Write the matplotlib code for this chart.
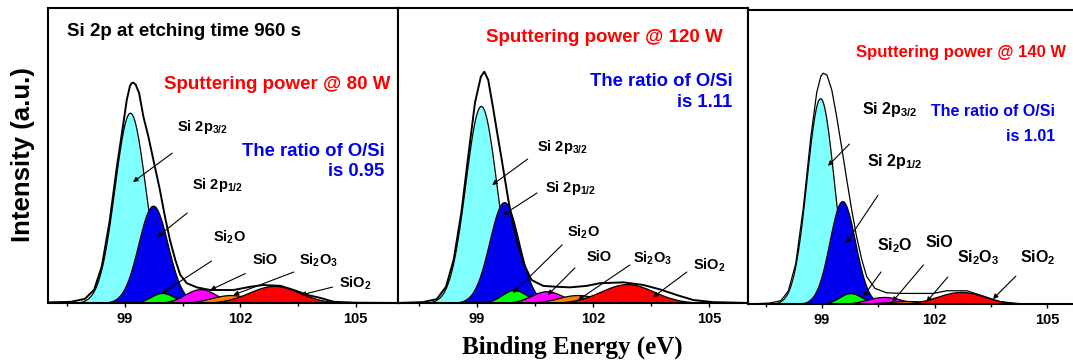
import numpy as np
from matplotlib import pyplot as plt

plt.rcParams['font.family'] = ['Liberation Sans', 'DejaVu Sans']
plt.rcParams['font.weight'] = 'bold'
plt.rcParams['mathtext.fontset'] = 'custom'
plt.rcParams['mathtext.rm'] = 'Liberation Sans:bold'
plt.rcParams['mathtext.it'] = 'Liberation Sans:bold'
plt.rcParams['mathtext.bf'] = 'Liberation Sans:bold'

# fitted components (center eV, height a.u., sigma eV)
components = ['Si 2p$_{3/2}$', 'Si 2p$_{1/2}$', 'Si$_2$O', 'SiO', 'Si$_2$O$_3$', 'SiO$_2$']

powers = ['80 W', '120 W', '140 W']
ratios = ['0.95', '1.11', '1.01']

centers_80 = [99.13, 99.73, 99.97, 100.96, 101.75, 102.88]
heights_80 = [0.645, 0.33, 0.034, 0.047, 0.027, 0.058]
sigmas_80 = [0.40, 0.38, 0.30, 0.40, 0.50, 0.65]

centers_120 = [99.10, 99.70, 99.96, 100.80, 101.60, 102.88]
heights_120 = [0.668, 0.342, 0.044, 0.040, 0.027, 0.064]
sigmas_120 = [0.40, 0.38, 0.32, 0.40, 0.50, 0.68]

centers_140 = [98.95, 99.54, 99.76, 100.65, 101.30, 102.70]
heights_140 = [0.70, 0.35, 0.037, 0.024, 0.010, 0.041]
sigmas_140 = [0.36, 0.34, 0.30, 0.45, 0.60, 0.62]

env_x_80 = [97.0, 97.6, 97.96, 98.2, 98.4, 98.6, 98.8, 98.95, 99.05, 99.13, 99.17, 99.22, 99.28,
            99.37, 99.48, 99.61, 99.74, 99.91, 100.04, 100.17, 100.31, 100.44, 100.61, 100.87,
            101.22, 101.82, 102.26, 102.6, 103.05, 103.39, 103.75, 104.09, 104.43, 105.0, 106.1]
env_y_80 = [0.002, 0.004, 0.014, 0.045, 0.125, 0.275, 0.47, 0.60, 0.69, 0.735, 0.745, 0.747, 0.740,
            0.711, 0.632, 0.564, 0.485, 0.383, 0.293, 0.214, 0.146, 0.095, 0.067, 0.053,
            0.044, 0.044, 0.055, 0.061, 0.058, 0.044, 0.027, 0.017, 0.004, 0.001, 0.0]

env_x_120 = [96.96, 97.6, 97.96, 98.2, 98.4, 98.6, 98.8, 98.95, 99.1, 99.19, 99.29, 99.41, 99.51,
             99.64, 99.81, 99.98, 100.2, 100.41, 100.71, 101.06, 101.4, 101.83, 102.17, 102.78,
             103.3, 103.73, 104.16, 104.59, 105.1, 106.0]
env_y_120 = [0.0, 0.003, 0.013, 0.055, 0.148, 0.31, 0.525, 0.68, 0.767, 0.784, 0.756, 0.666, 0.586,
             0.485, 0.349, 0.236, 0.135, 0.078, 0.058, 0.055, 0.053, 0.058, 0.067, 0.07,
             0.061, 0.046, 0.027, 0.01, 0.003, 0.0]

env_x_140 = [97.03, 97.6, 97.9, 98.1, 98.3, 98.5, 98.7, 98.86, 98.97, 99.03, 99.13, 99.26, 99.39,
             99.52, 99.66, 99.79, 99.92, 100.06, 100.19, 100.41, 100.72, 101.16, 101.61, 101.96,
             102.32, 102.85, 103.2, 103.73, 104.35, 106.0]
env_y_140 = [0.0, 0.003, 0.011, 0.043, 0.137, 0.325, 0.566, 0.72, 0.775, 0.785, 0.779, 0.728, 0.637,
             0.535, 0.422, 0.32, 0.229, 0.15, 0.093, 0.053, 0.038, 0.036, 0.036, 0.036,
             0.045, 0.045, 0.031, 0.008, 0.0, 0.0]

x_ticks = [99, 102, 105]

peak_colors = ['#80FFFF', '#0000EE', '#00FF00', '#FF00FF', '#FF8000', '#FF0000']


def gauss(x_, c, h, s):
    return h * np.exp(-0.5 * ((x_ - c) / s) ** 2)


W, H = 1073, 361


def box(l, r, t, b):
    return [l / W, 1 - b / H, (r - l) / W, (b - t) / H]


def draw_panel(ax, centers, heights, sigmas, env_x, env_y, xlim, env_lw, lab_fs, labels):
    x = np.linspace(xlim[0], xlim[1], 800)
    for c, h, s, col in zip(centers, heights, sigmas, peak_colors):
        ax.fill_between(x, 0, gauss(x, c, h, s), facecolor=col, edgecolor='k', lw=0.9, zorder=2)
    ax.plot(env_x, env_y, color='k', lw=env_lw, zorder=3, solid_joinstyle='round')

    for name, (tx, ty, t0, h0) in zip(components, labels):
        ax.text(tx, ty, name, fontsize=lab_fs, va='center', ha='left', zorder=5)
        ax.annotate('', xy=h0, xytext=t0,
                    arrowprops=dict(arrowstyle='-|>', color='k', lw=0.8, mutation_scale=7,
                                    shrinkA=0, shrinkB=0), zorder=4)

    ax.set_xlim(*xlim)
    ax.set_ylim(0, 1)
    ax.set_yticks([])
    ax.set_xticks(x_ticks)
    ax.set_xticks([97.5, 100.5, 103.5], minor=True)
    ax.tick_params(axis='x', labelsize=10.5, length=3, width=1, direction='out')
    ax.tick_params(axis='x', which='minor', length=2, width=1)
    for sp in ax.spines.values():
        sp.set_linewidth(1.5)


fig = plt.figure(figsize=(W / 100, H / 100), dpi=100)
ax1 = fig.add_axes(box(48, 398, 8, 303))
ax2 = fig.add_axes(box(398, 748, 8, 303))
ax3 = fig.add_axes(box(748, 1085, 10, 304))

labels_80 = [
    (100.36, 0.597, (100.23, 0.508), (99.21, 0.41)),
    (100.75, 0.40, (100.62, 0.305), (99.84, 0.224)),
    (101.30, 0.224, (101.25, 0.142), (99.97, 0.034)),
    (102.32, 0.146, (102.13, 0.10), (101.22, 0.044)),
    (103.52, 0.146, (103.39, 0.105), (101.82, 0.027)),
    (104.56, 0.068, (104.40, 0.054), (103.57, 0.027)),
]
labels_120 = [
    (100.55, 0.53, (100.31, 0.488), (99.39, 0.40)),
    (100.76, 0.39, (100.55, 0.373), (99.67, 0.298)),
    (101.33, 0.241, (101.20, 0.197), (99.93, 0.034)),
    (101.82, 0.156, (101.53, 0.119), (100.83, 0.027)),
    (103.03, 0.152, (102.95, 0.129), (101.61, 0.01)),
    (104.58, 0.129, (104.42, 0.105), (103.55, 0.02)),
]
labels_140 = [
    (100.07, 0.66, (99.73, 0.544), (99.16, 0.47)),
    (100.20, 0.483, (100.49, 0.37), (99.64, 0.207)),
    (100.47, 0.20, (100.57, 0.109), (100.09, 0.024)),
    (101.75, 0.208, (101.70, 0.133), (100.87, 0.007)),
    (102.60, 0.156, (102.35, 0.092), (101.78, 0.007)),
    (104.27, 0.156, (104.16, 0.095), (103.55, 0.017)),
]

draw_panel(ax1, centers_80, heights_80, sigmas_80, env_x_80, env_y_80,
           (97.0, 106.1), 1.4, 10.5, labels_80)
draw_panel(ax2, centers_120, heights_120, sigmas_120, env_x_120, env_y_120,
           (96.96, 106.0), 1.4, 10.5, labels_120)
draw_panel(ax3, centers_140, heights_140, sigmas_140, env_x_140, env_y_140,
           (97.03, 106.0), 0.9, 11.5, labels_140)

ax1.text(97.5, 0.92, 'Si 2p at etching time 960 s', fontsize=13.5, va='center', ha='left')
ax1.text(105.9, 0.74, 'Sputtering power @ ' + powers[0], fontsize=13.5, color='#FF0000',
         va='center', ha='right')
ax1.text(105.75, 0.48, 'The ratio of O/Si\nis ' + ratios[0], fontsize=13.3, color='#0000EE',
         va='center', ha='right', multialignment='right', linespacing=1.25)

ax2.text(105.36, 0.90, 'Sputtering power @ ' + powers[1], fontsize=13.5, color='#FF0000',
         va='center', ha='right')
ax2.text(105.6, 0.715, 'The ratio of O/Si\nis ' + ratios[1], fontsize=13.3, color='#0000EE',
         va='center', ha='right', multialignment='right', linespacing=1.25)

ax3.text(105.5, 0.857, 'Sputtering power @ ' + powers[2], fontsize=12, color='#FF0000',
         va='center', ha='right')
ax3.text(105.2, 0.612, 'The ratio of O/Si\nis ' + ratios[2], fontsize=11.5, color='#0000EE',
         va='center', ha='right', multialignment='right', linespacing=1.9)

fig.text(23 / W, 1 - 155 / H, 'Intensity (a.u.)', rotation=90, fontsize=18.5,
         va='center', ha='center')
fig.text(572 / W, 1 - 347 / H, 'Binding Energy (eV)', fontsize=18,
         family=['Liberation Serif', 'DejaVu Serif'], va='center', ha='center')

fig.savefig('out.png', dpi=100)
